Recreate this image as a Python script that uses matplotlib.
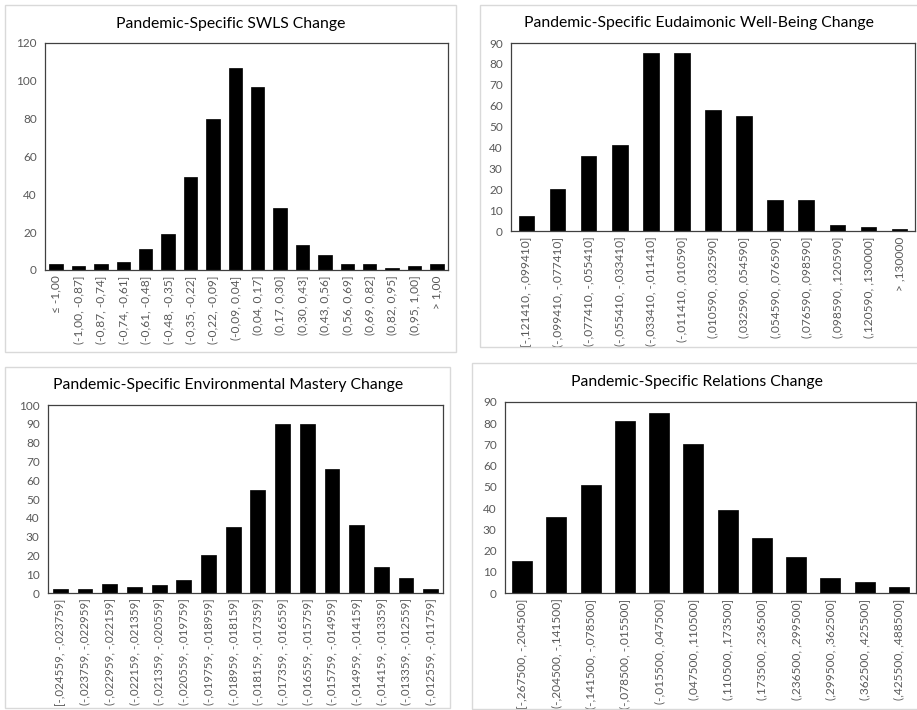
import matplotlib
matplotlib.use("Agg")
import matplotlib.pyplot as plt
from matplotlib.patches import Rectangle

plt.rcParams['font.family'] = ['Lato', 'DejaVu Sans']

# ---- data -------------------------------------------------------------
swls_labels = ["≤ -1,00", "(-1,00, -0,87]", "(-0,87, -0,74]", "(-0,74, -0,61]",
               "(-0,61, -0,48]", "(-0,48, -0,35]", "(-0,35, -0,22]", "(-0,22, -0,09]",
               "(-0,09, 0,04]", "(0,04, 0,17]", "(0,17, 0,30]", "(0,30, 0,43]",
               "(0,43, 0,56]", "(0,56, 0,69]", "(0,69, 0,82]", "(0,82, 0,95]",
               "(0,95, 1,00]", "> 1,00"]
swls_counts = [3, 2, 3, 4, 11, 19, 49, 80, 107, 97, 33, 13, 8, 3, 3, 1, 2, 3]

eud_labels = ["[-,121410, -,099410]", "(-,099410, -,077410]", "(-,077410, -,055410]",
              "(-,055410, -,033410]", "(-,033410, -,011410]", "(-,011410, ,010590]",
              "(,010590, ,032590]", "(,032590, ,054590]", "(,054590, ,076590]",
              "(,076590, ,098590]", "(,098590, ,120590]", "(,120590, ,130000]",
              "> ,130000"]
eud_counts = [7, 20, 36, 41, 85, 85, 58, 55, 15, 15, 3, 2, 1]

em_labels = ["[-,024559, -,023759]", "(-,023759, -,022959]", "(-,022959, -,022159]",
             "(-,022159, -,021359]", "(-,021359, -,020559]", "(-,020559, -,019759]",
             "(-,019759, -,018959]", "(-,018959, -,018159]", "(-,018159, -,017359]",
             "(-,017359, -,016559]", "(-,016559, -,015759]", "(-,015759, -,014959]",
             "(-,014959, -,014159]", "(-,014159, -,013359]", "(-,013359, -,012559]",
             "(-,012559, -,011759]"]
em_counts = [2, 2, 5, 3, 4, 7, 20, 35, 55, 90, 90, 66, 36, 14, 8, 2]

rel_labels = ["[-,267500, -,204500]", "(-,204500, -,141500]", "(-,141500, -,078500]",
              "(-,078500, -,015500]", "(-,015500, ,047500]", "(,047500, ,110500]",
              "(,110500, ,173500]", "(,173500, ,236500]", "(,236500, ,299500]",
              "(,299500, ,362500]", "(,362500, ,425500]", "(,425500, ,488500]"]
rel_counts = [15, 36, 51, 81, 85, 70, 39, 26, 17, 7, 5, 3]

W, H = 917, 710
fig = plt.figure(figsize=(W / 100, H / 100), dpi=100)
fig.patch.set_facecolor("white")


def px_rect(x0, y0, x1, y1):
    """Pixel box (top-left origin) -> figure fraction [l, b, w, h]."""
    return [x0 / W, 1 - y1 / H, (x1 - x0) / W, (y1 - y0) / H]


def frame(x0, y0, x1, y1):
    l, b, w, h = px_rect(x0, y0, x1, y1)
    fig.patches.append(Rectangle((l, b), w, h, transform=fig.transFigure,
                                 fill=False, edgecolor="#d9d9d9", linewidth=1.0))


def panel(box, labels, counts, ymax, ystep, width, title, title_xy, xfs):
    ax = fig.add_axes(px_rect(*box))
    x = range(len(counts))
    ax.bar(x, counts, width=width, color="black", edgecolor="black", linewidth=0.5)
    ax.set_xlim(-0.5, len(counts) - 0.5)
    ax.set_ylim(0, ymax)
    ax.set_yticks(range(0, ymax + 1, ystep))
    ax.set_xticks(list(x))
    ax.set_xticklabels(labels, rotation=90, fontsize=xfs, color="#595959")
    ax.tick_params(axis="y", labelsize=8.5, labelcolor="#595959", length=0, pad=6)
    ax.tick_params(axis="x", length=0, pad=4)
    for s in ax.spines.values():
        s.set_color("#404040")
        s.set_linewidth(0.9)
    fig.text(title_xy[0] / W, 1 - title_xy[1] / H, title, ha="center", va="center",
             fontsize=11.3, color="black")
    return ax


frame(5, 5, 456, 352)
frame(480, 5, 925, 347)
frame(5, 367, 450, 708)
frame(472, 363, 925, 709)

panel((45, 43, 448, 270), swls_labels, swls_counts, 120, 20, 0.6,
      "Pandemic-Specific SWLS Change", (231, 24), 8.6)
panel((511, 43, 915, 231), eud_labels, eud_counts, 90, 10, 0.5,
      "Pandemic-Specific Eudaimonic Well-Being Change", (699, 23), 8.6)
panel((48, 405, 443, 593), em_labels, em_counts, 100, 10, 0.6,
      "Pandemic-Specific Environmental Mastery Change", (228, 385), 8.3)
panel((505, 402, 916, 593), rel_labels, rel_counts, 90, 10, 0.58,
      "Pandemic-Specific Relations Change", (697, 382), 8.6)

fig.savefig("out.png", dpi=100, facecolor="white")
